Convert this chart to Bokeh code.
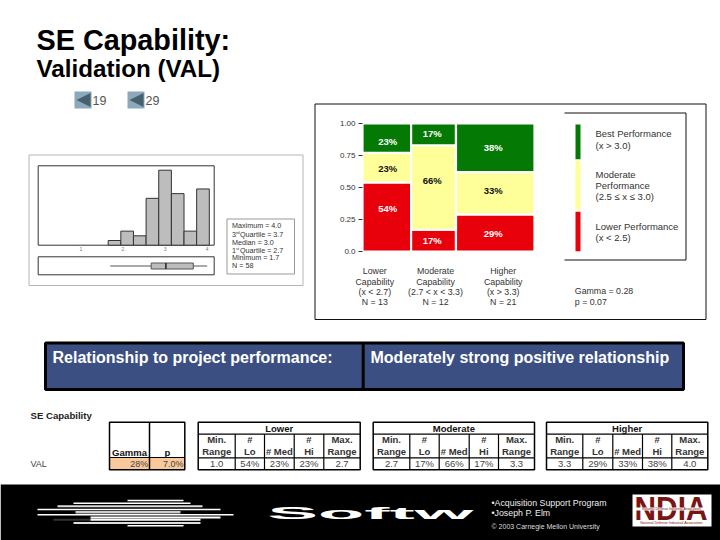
from bokeh.plotting import figure
from bokeh.models import Range1d, CustomJS
from bokeh.events import DocumentReady
from bokeh.document import Document
from bokeh.core.properties import value
from bokeh.embed import file_html
from bokeh.resources import INLINE

# ---- data ----
caps_n = [13, 12, 21]
lo_share = [54, 17, 29]
med_share = [23, 66, 33]
hi_share = [23, 17, 38]
mosaic_ticks = [0.0, 0.25, 0.5, 0.75, 1.0]
mosaic_tick_labels = ["0.0", "0.25", "0.50", "0.75", "1.00"]
cap_labels = [["Lower", "Capability", "(x < 2.7)", "N = 13"],
              ["Moderate", "Capability", "(2.7 < x < 3.3)", "N = 12"],
              ["Higher", "Capability", "(x > 3.3)", "N = 21"]]
hist_edges = [1.65, 1.95, 2.25, 2.55, 2.85, 3.15, 3.45, 3.75, 4.05]
hist_counts = [1, 3, 2, 10, 16, 11, 3, 12]
hist_ticks = [1, 2, 3, 4]
box_min, box_q1, box_med, box_q3, box_max = 1.7, 2.67, 3.02, 3.67, 4.0
table_groups = ["Lower", "Moderate", "Higher"]
table_heads1 = ["Min.", "#", "", "#", "Max."]
table_heads2 = ["Range", "Lo", "# Med", "Hi", "Range"]
table_rows = [["1.0", "54%", "23%", "23%", "2.7"],
              ["2.7", "17%", "66%", "17%", "3.3"],
              ["3.3", "29%", "33%", "38%", "4.0"]]

W, H = 720, 540
FONT = value("Liberation Sans")


def rng(px0, v0, px1, v1, lo, hi):
    k = (v1 - v0) / (px1 - px0)
    return Range1d(start=v0 + (lo - px0) * k, end=v0 + (hi - px0) * k)


p = figure(width=W, height=H, x_range=Range1d(0, W), y_range=Range1d(H, 0),
           x_axis_location=None, y_axis_location=None, toolbar_location=None,
           output_backend="svg", min_border=0, outline_line_color=None,
           background_fill_color="white", border_fill_color="white")
p.grid.visible = False
p.extra_x_ranges = {"mos": rng(362, 0, 534, 46, 0, W),
                    "hist": rng(80.3, 1, 206.7, 4, 0, W)}
p.extra_y_ranges = {"mos": rng(251, 0, 123, 1, H, 0),
                    "hist": rng(244.7, 0, 169.7, 16, H, 0),
                    "px": Range1d(H, 0)}


def txt(x, y, s, size=9.5, color="#222222", align="left", bold=False, font=FONT):
    p.text([x], [y], text=[s], text_font=font, text_font_size=f"{size}px", text_color=color,
           text_align=align, text_baseline="middle",
           text_font_style="bold" if bold else "normal")


def box(x0, y0, x1, y1, fill=None, line="black", lw=1.0):
    p.quad(left=[x0], right=[x1], top=[y0], bottom=[y1], fill_color=fill,
           fill_alpha=1 if fill else 0, line_color=line, line_width=lw)


def seg(x0, y0, x1, y1, color="black", lw=1.0):
    p.segment([x0], [y0], [x1], [y1], line_color=color, line_width=lw)


# ---- titles ----
txt(36, 39, "SE Capability:", 28.8, "black", bold=True)
txt(36, 68, "Validation (VAL)", 24.2, "black", bold=True)
for bx, lab in ((74, "19"), (127, "29")):
    box(bx, 91, bx + 17, 108, "#8BA9BA", None)
    p.patch([bx + 2, bx + 16, bx + 16], [99.5, 92.5, 106.5], fill_color="#46606F", line_color=None)
    txt(bx + 18, 99.5, lab, 12.5, "#555555")

# ---- histogram panel ----
box(28.5, 154.5, 302.5, 285, "white", "#b5b5b5", 1)
box(37.7, 165.3, 213.7, 244.7, "white", "#333333", 1)
p.quad(left=hist_edges[:-1], right=hist_edges[1:], top=hist_counts, bottom=[0] * len(hist_counts),
       fill_color="#bdbdbd", line_color="#333333", line_width=1,
       x_range_name="hist", y_range_name="hist")
for t in hist_ticks:
    p.text([t], [0], text=[str(t)], x_range_name="hist", y_range_name="hist", y_offset=4,
           text_font=FONT, text_font_size="5px", text_color="#777777", text_align="center",
           text_baseline="middle")
box(37.7, 256.3, 213.7, 274.3, "white", "#333333", 1)
yb = 265.5
p.segment([box_min, box_q3], [yb, yb], [box_q1, box_max], [yb, yb], line_color="#555555",
          x_range_name="hist", y_range_name="px")
p.quad(left=[box_q1], right=[box_q3], top=[262.5], bottom=[268.5], fill_color="#bdbdbd",
       line_color="#555555", x_range_name="hist", y_range_name="px")
p.segment([box_med], [262.5], [box_med], [268.5], line_color="#222222", line_width=1.5,
          x_range_name="hist", y_range_name="px")

box(226.5, 218.5, 294, 273.5, "white", "#999999", 1)
S_SIZE = 7.2
txt(231.5, 225, "Maximum = 4.0", S_SIZE, "#333333")
txt(231.5, 233.5, "3", S_SIZE, "#333333")
txt(235.4, 232, "rd", 4.2, "#333333")
txt(239.5, 233.5, "Quartile = 3.7", S_SIZE, "#333333")
txt(231.5, 241.5, "Median = 3.0", S_SIZE, "#333333")
txt(231.5, 249.5, "1", S_SIZE, "#333333")
txt(235.4, 248, "st", 4.2, "#333333")
txt(239.5, 249.5, "Quartile = 2.7", S_SIZE, "#333333")
txt(231.5, 257.3, "Minimum = 1.7", S_SIZE, "#333333")
txt(231.5, 265, "N = 58", S_SIZE, "#333333")

# ---- mosaic panel ----
box(314.5, 103.5, 705.5, 319, "white", "#111111", 1)
cum = [0]
for n in caps_n:
    cum.append(cum[-1] + n)
for level, color in ((0, "#e8000b"), (1, "#ffff99"), (2, "#047a04")):
    lefts, rights, bots, tops = [], [], [], []
    for i in range(3):
        lo, me, hi = lo_share[i], med_share[i], hi_share[i]
        total = lo + me + hi
        b = [0, lo / total, (lo + me) / total][level]
        t = [lo / total, (lo + me) / total, 1][level]
        lefts.append(cum[i]); rights.append(cum[i + 1]); bots.append(b); tops.append(t)
    p.quad(left=lefts, right=rights, bottom=bots, top=tops, fill_color=color, line_color="white",
           line_width=2.2, x_range_name="mos", y_range_name="mos")
for t, lab in zip(mosaic_ticks, mosaic_tick_labels):
    p.segment([358], [t], [362], [t], line_color="#333333", y_range_name="mos")
    p.text([355], [t], text=[lab], y_range_name="mos", text_font=FONT, text_font_size="8px",
           text_color="#333333", text_align="right", text_baseline="middle")
pct_x = [387.3, 431.7, 492.7]
pct_y = [(207.7, 167.7, 141.3), (240, 180, 132.7), (233.3, 190, 146.7)]
for i in range(3):
    vals = (lo_share[i], med_share[i], hi_share[i])
    cols = ("white", "#111111", "white")
    for j in range(3):
        txt(pct_x[i], pct_y[i][j], f"{vals[j]}%", 9.5, cols[j], "center", True)
cap_x = [374.3, 435, 502.7]
cap_y = [270.7, 281, 291, 301]
for cx, lines in zip(cap_x, cap_labels):
    for yy, s in zip(cap_y, lines):
        txt(cx, yy, s, 8.8, "#333333", "center")
txt(574.3, 290.7, "Gamma = 0.28", 8.8, "#333333")
txt(574.3, 301, "p = 0.07", 8.8, "#333333")
# legend
seg(564, 112.5, 685.5, 112.5, "#111111")
seg(685.5, 112.5, 685.5, 259.5, "#111111")
seg(564, 259.5, 685.5, 259.5, "#111111")
box(575, 124, 580, 158.7, "#047a04", None)
box(575, 160.3, 580, 209.3, "#ffff99", None)
box(575, 211.3, 580, 250.7, "#e8000b", None)
for yy, s in ((133.3, "Best Performance"), (145, "(x > 3.0)"), (173.7, "Moderate"), (184.7, "Performance"),
              (196, "(2.5 \u2264 x \u2264 3.0)"), (226, "Lower Performance"), (237.3, "(x < 2.5)")):
    txt(595, yy, s, 9.5, "#333333")

# ---- relationship bar ----
box(45, 342.5, 683, 389, "#3b4f82", "black", 3)
seg(362.7, 342.5, 362.7, 389, "black", 3)
txt(52, 356.5, "Relationship to project performance:", 16, "white", bold=True)
txt(370, 356.5, "Moderately strong positive relationship", 16, "white", bold=True)

# ---- table ----
txt(30, 415, "SE Capability", 9.6, "#222222", bold=True)
txt(30, 463, "VAL", 9, "#444444")
box(109, 457, 184.3, 469.3, "#f9c89b", None)
box(109, 421.7, 184.3, 469.3, None, "black", 1.5)
seg(149, 421.7, 149, 469.3, "black", 1.5)
seg(109, 457, 184.3, 457, "black", 1)
txt(129, 451.5, "Gamma", 9.5, "#111111", "center", True)
txt(167, 451.5, "p", 9.5, "#111111", "center", True)
txt(147.7, 463, "28%", 9, "#444444", "right")
txt(183, 463, "7.0%", 9, "#444444", "right")
col_edges = [[197.7, 234.7, 264, 293.7, 323.3, 359.7],
             [372.7, 409.3, 438.7, 468.7, 498, 534],
             [546, 582.3, 612.3, 642, 671.3, 707.3]]
for g, edges in enumerate(col_edges):
    box(edges[0], 421.7, edges[-1], 469.3, "white", "black", 1.5)
    seg(edges[0], 433.7, edges[-1], 433.7, "black", 1.2)
    seg(edges[0], 457.3, edges[-1], 457.3, "black", 1.2)
    txt((edges[0] + edges[-1]) / 2, 427.5, table_groups[g], 9.5, "#111111", "center", True)
    for k in range(5):
        if k:
            seg(edges[k], 433.7, edges[k], 469.3, "black", 1.2)
        c = (edges[k] + edges[k + 1]) / 2
        if table_heads1[k]:
            txt(c, 438.5, table_heads1[k], 9.5, "#333333", "center", True)
        txt(c, 450.5, table_heads2[k], 9.5, "#333333", "center", True)
        txt(c, 463, table_rows[g][k], 9.5, "#444444", "center")

# ---- banner ----
box(0, 484, W, H, "black", None)
stripes = [(127, 183, 500, 1.5, "white"), (73, 190, 502.7, 1.5, "white"), (57, 202, 505.7, 2, "#dddddd"),
           (37, 220, 509, 1.5, "white"), (75, 180, 511.8, 2.5, "#cccccc"), (37, 233, 514.3, 1.5, "white"),
           (90, 220, 517, 2, "white"), (53, 90, 519.3, 2, "#333333"), (90, 200, 519.3, 2, "white"),
           (73, 200, 522.5, 2, "#dddddd"), (127, 183, 525.3, 1.5, "white")]
for x0, x1, yy, lw, c in stripes:
    seg(x0, yy, x1, yy, c, lw)

txt(267, 512.5, "Softw", 16.5, "white", "left", True)
txt(491, 502, "\u2022Acquisition Support Program", 8.8, "#eeeeee")
txt(491, 512, "\u2022Joseph P. Elm", 8.8, "#eeeeee")
txt(491, 526, "\u00a9 2003 Carnegie Mellon University", 7, "#dddddd")
box(632, 494, 711, 526, "white", None)
txt(634, 507.5, "NDIA", 34, "#7a1515", "left", True)
seg(634, 508.5, 708, 508.5, "white", 3)
txt(671, 508.5, "National Defense Industrial Association", 3.4, "#7a1515", "center")
txt(671, 522.5, "National Defense Industrial Association", 3.6, "#7a1515", "center")

# The logo lettering is set extended: stretch the real text nodes to the logo's width.
doc = Document()
doc.add_root(p)
doc.js_on_event(DocumentReady, CustomJS(code="""
const spans = {"Softw": 206, "NDIA": 73};
const walk = (r) => {
  r.querySelectorAll('*').forEach((e) => {
    if (e.shadowRoot) walk(e.shadowRoot);
    if (e.tagName.toLowerCase() === 'text' && spans[e.textContent] !== undefined) {
      e.setAttribute('textLength', spans[e.textContent]);
      e.setAttribute('lengthAdjust', 'spacingAndGlyphs');
    }
  });
};
[0, 100, 300, 800].forEach((t) => setTimeout(() => walk(document), t));
"""))

open("out.html", "w").write(file_html(doc, INLINE))
